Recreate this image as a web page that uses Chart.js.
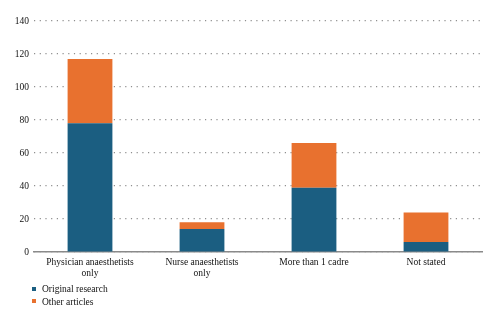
<!DOCTYPE html>
<html>
<head>
<meta charset="utf-8">
<script src="https://cdn.jsdelivr.net/npm/chart.js@4"></script>
<style>
  html, body { margin: 0; padding: 0; background: #fff; }
  #wrap { position: relative; width: 500px; height: 322px; }
  #legend { position: absolute; left: 32px; top: 283px; font-family: "Liberation Serif", "Times New Roman", serif; font-size: 9.5px; color: #111; }
  #legend div { height: 12.5px; line-height: 12.5px; white-space: nowrap; }
  #legend span.sw { display: inline-block; width: 4px; height: 4px; margin-right: 6px; vertical-align: middle; position: relative; top: -1px; }
</style>
</head>
<body>
<div id="wrap">
  <canvas id="c" width="500" height="322"></canvas>
  <div id="legend"></div>
</div>
<script>
const categories = [["Physician anaesthetists", "only"], ["Nurse anaesthetists", "only"], "More than 1 cadre", "Not stated"];
const originalResearch = [78, 14, 39, 6];
const otherArticles = [39, 4, 27, 18];
const seriesNames = ["Original research", "Other articles"];
const seriesColors = ["#1b5e81", "#e8712f"];
const yTicks = [0, 20, 40, 60, 80, 100, 120, 140];

const font = { family: '"Liberation Serif", "Times New Roman", serif', size: 9.5, lineHeight: 1.15 };

new Chart(document.getElementById('c'), {
  type: 'bar',
  data: {
    labels: categories,
    datasets: [
      { label: seriesNames[0], data: originalResearch, backgroundColor: seriesColors[0] },
      { label: seriesNames[1], data: otherArticles, backgroundColor: seriesColors[1] }
    ]
  },
  options: {
    responsive: false,
    animation: false,
    layout: { padding: { top: 21, right: 18, left: 0, bottom: 0 } },
    plugins: { legend: { display: false }, tooltip: { enabled: false } },
    datasets: { bar: { categoryPercentage: 0.8, barPercentage: 0.5 } },
    scales: {
      x: {
        stacked: true,
        grid: { display: false, drawTicks: false },
        border: { display: true, color: '#8a8a8a', width: 1.5 },
        ticks: { font: font, color: '#111', padding: 5, maxRotation: 0, autoSkip: false },
        afterFit: (s) => { s.height = 70; }
      },
      y: {
        stacked: true,
        min: 0, max: 140,
        afterBuildTicks: (s) => { s.ticks = yTicks.map(v => ({ value: v })); },
        grid: { color: '#8f8f8f', lineWidth: 1.2, drawTicks: false },
        border: { display: false, dash: [1.2, 4.5] },
        ticks: { font: font, color: '#111', padding: 5 },
        afterFit: (s) => { s.width = 34; }
      }
    }
  }
});

const leg = document.getElementById('legend');
seriesNames.forEach((n, i) => {
  const d = document.createElement('div');
  const sw = document.createElement('span');
  sw.className = 'sw';
  sw.style.background = seriesColors[i];
  d.appendChild(sw);
  d.appendChild(document.createTextNode(n));
  leg.appendChild(d);
});
</script>
</body>
</html>
